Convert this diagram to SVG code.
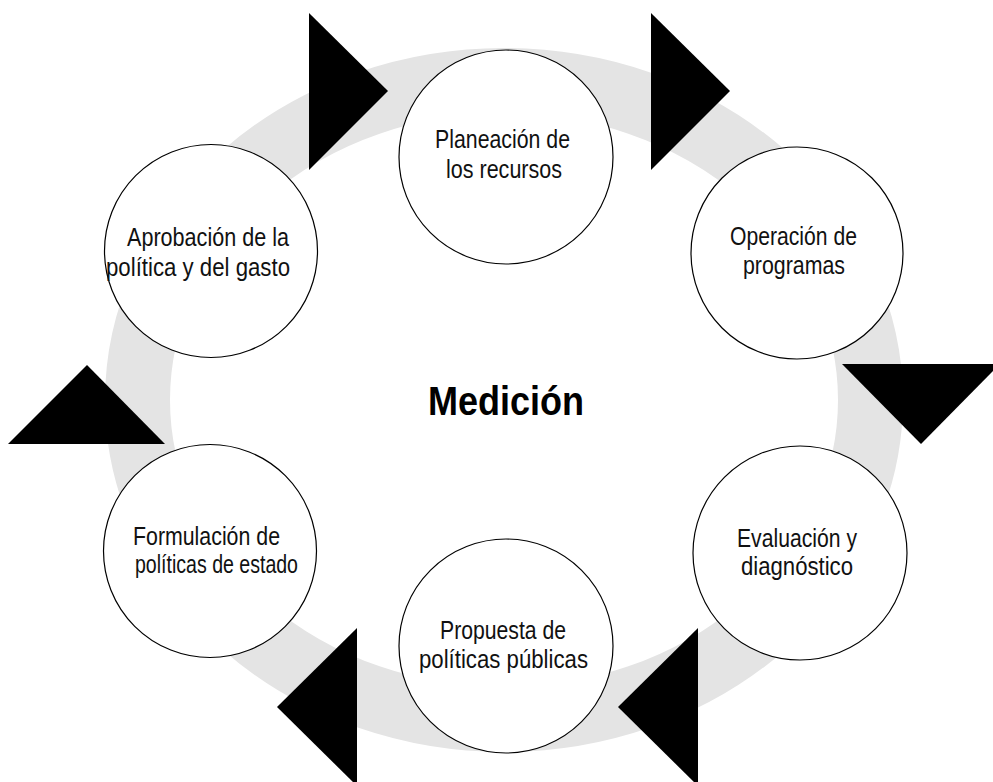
<svg xmlns="http://www.w3.org/2000/svg" width="993" height="782" viewBox="0 0 993 782">
<style>
.ring{fill:none;stroke:#e4e4e4;stroke-width:65}
.node circle{fill:#ffffff;stroke:#000000;stroke-width:1.2}
.node text{font-family:"Liberation Sans",Arial,sans-serif;font-size:25px;fill:#111111}
.arrow{fill:#000000}
.center{font-family:"Liberation Sans",Arial,sans-serif;font-size:40px;font-weight:bold;fill:#000000}
</style>
<rect width="993" height="782" fill="#ffffff"/>
<ellipse class="ring" cx="504" cy="400" rx="366.5" ry="319.5"/>
<g id="connectors">
<polygon class="arrow" points="309,13 309,170 388,91"/>
<polygon class="arrow" points="651,13 651,170 730,91"/>
<polygon class="arrow" points="842,364 1000,364 921,444"/>
<polygon class="arrow" points="698,628 698,786 618,707"/>
<polygon class="arrow" points="357,628 357,786 277,707"/>
<polygon class="arrow" points="8,444 165,444 87,365"/>
</g>
<g id="node-planeacion" class="node">
<circle cx="506" cy="157" r="107"/>
<text x="435" y="148" textLength="135" lengthAdjust="spacingAndGlyphs">Planeación de</text>
<text x="446" y="178" textLength="116" lengthAdjust="spacingAndGlyphs">los recursos</text>
</g>
<g id="node-operacion" class="node">
<circle cx="797" cy="253" r="106"/>
<text x="730" y="245" textLength="127" lengthAdjust="spacingAndGlyphs">Operación de</text>
<text x="743" y="274" textLength="102" lengthAdjust="spacingAndGlyphs">programas</text>
</g>
<g id="node-evaluacion" class="node">
<circle cx="800" cy="553" r="107"/>
<text x="737" y="547" textLength="120" lengthAdjust="spacingAndGlyphs">Evaluación y</text>
<text x="741" y="575" textLength="112" lengthAdjust="spacingAndGlyphs">diagnóstico</text>
</g>
<g id="node-propuesta" class="node">
<circle cx="506" cy="646" r="107"/>
<text x="440" y="639" textLength="126" lengthAdjust="spacingAndGlyphs">Propuesta de</text>
<text x="419" y="668" textLength="169" lengthAdjust="spacingAndGlyphs">políticas públicas</text>
</g>
<g id="node-formulacion" class="node">
<circle cx="210" cy="551" r="106.5"/>
<text x="133" y="545" textLength="147" lengthAdjust="spacingAndGlyphs">Formulación de</text>
<text x="135" y="573" textLength="163" lengthAdjust="spacingAndGlyphs">políticas de estado</text>
</g>
<g id="node-aprobacion" class="node">
<circle cx="211" cy="251" r="106.5"/>
<text x="127" y="246" textLength="162" lengthAdjust="spacingAndGlyphs">Aprobación de la</text>
<text x="106" y="276" textLength="184" lengthAdjust="spacingAndGlyphs">política y del gasto</text>
</g>
<g id="center-label">
<text class="center" x="428" y="415" textLength="156" lengthAdjust="spacingAndGlyphs">Medición</text>
</g>
</svg>
